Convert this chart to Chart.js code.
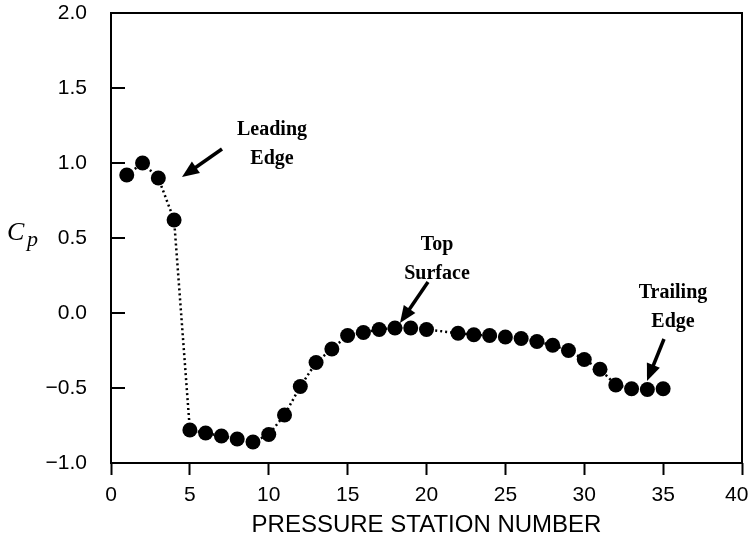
<!DOCTYPE html>
<html>
<head>
<meta charset="utf-8">
<script src="https://cdn.jsdelivr.net/npm/chart.js@4.4.1/dist/chart.umd.min.js"></script>
<style>
  html, body { margin: 0; padding: 0; background: #fff; }
  #wrap { width: 751px; height: 544px; }
</style>
</head>
<body>
<div id="wrap"><canvas id="myChart" width="751" height="544"></canvas></div>
<script>
// pressure stations (station 21 has no reading)
const stations = [1, 2, 3, 4, 5, 6, 7, 8, 9, 10, 11, 12, 13, 14, 15, 16, 17, 18, 19, 20,
                  22, 23, 24, 25, 26, 27, 28, 29, 30, 31, 32, 33, 34, 35];
const cpValues = [0.92, 1.00, 0.90, 0.62, -0.78, -0.80, -0.82, -0.84, -0.86, -0.81,
                  -0.68, -0.49, -0.33, -0.24, -0.15, -0.13, -0.11, -0.10, -0.10, -0.11,
                  -0.135, -0.145, -0.15, -0.16, -0.17, -0.19, -0.215, -0.25, -0.31, -0.375,
                  -0.48, -0.505, -0.51, -0.505];
const xTicks = [0, 5, 10, 15, 20, 25, 30, 35, 40];
const yTicks = [-1.0, -0.5, 0.0, 0.5, 1.0, 1.5, 2.0];

const notes = [
    { lines: ['Leading', 'Edge'], x: 272, y: 130, from: [222, 149], to: [182, 177] },
    { lines: ['Top', 'Surface'], x: 437, y: 245, from: [428, 282], to: [400, 323] },
    { lines: ['Trailing', 'Edge'], x: 673, y: 293, from: [664, 339], to: [647, 381] }
];

const framePlugin = {
    id: 'frame',
    afterDraw(chart) {
        const ctx = chart.ctx;
        const a = chart.chartArea;
        const y = chart.scales.y;
        ctx.save();
        ctx.strokeStyle = '#000';
        ctx.lineWidth = 2;
        ctx.strokeRect(a.left, a.top, a.right - a.left, a.bottom - a.top);
        // inward ticks on the left axis
        yTicks.forEach(v => {
            const py = y.getPixelForValue(v);
            ctx.beginPath();
            ctx.moveTo(a.left, py);
            ctx.lineTo(a.left + 14, py);
            ctx.stroke();
        });
        // y axis label
        ctx.fillStyle = '#000';
        ctx.font = 'italic 26px "Liberation Serif"';
        ctx.textBaseline = 'alphabetic';
        ctx.fillText('C', 7, 240);
        ctx.font = 'italic 22px "Liberation Serif"';
        ctx.fillText('p', 27, 246);
        // annotations
        ctx.font = 'bold 20px "Liberation Serif"';
        ctx.textAlign = 'center';
        ctx.textBaseline = 'middle';
        notes.forEach(n => {
            n.lines.forEach((t, i) => ctx.fillText(t, n.x, n.y + i * 29));
            const dx = n.to[0] - n.from[0], dy = n.to[1] - n.from[1];
            const ang = Math.atan2(dy, dx);
            ctx.lineWidth = 3.5;
            ctx.beginPath();
            ctx.moveTo(n.from[0], n.from[1]);
            ctx.lineTo(n.to[0] - 10 * Math.cos(ang), n.to[1] - 10 * Math.sin(ang));
            ctx.stroke();
            ctx.beginPath();
            ctx.moveTo(n.to[0], n.to[1]);
            ctx.lineTo(n.to[0] - 17 * Math.cos(ang) + 7 * Math.sin(ang), n.to[1] - 17 * Math.sin(ang) - 7 * Math.cos(ang));
            ctx.lineTo(n.to[0] - 17 * Math.cos(ang) - 7 * Math.sin(ang), n.to[1] - 17 * Math.sin(ang) + 7 * Math.cos(ang));
            ctx.closePath();
            ctx.fill();
        });
        ctx.restore();
    }
};

const ctx = document.getElementById('myChart').getContext('2d');
const myChart = new Chart(ctx, {
    type: 'line',
    data: {
        datasets: [{
            data: stations.map((s, i) => ({ x: s, y: cpValues[i] })),
            borderColor: '#000',
            borderWidth: 2.5,
            borderDash: [2, 3],
            backgroundColor: '#000',
            pointBackgroundColor: '#000',
            pointBorderColor: '#000',
            pointRadius: 7.5,
            pointBorderWidth: 0,
            tension: 0
        }]
    },
    options: {
        responsive: false,
        animation: false,
        layout: { padding: { left: 0, right: 9, top: 13, bottom: 0 } },
        plugins: { legend: { display: false }, tooltip: { enabled: false } },
        scales: {
            x: {
                type: 'linear',
                min: 0,
                max: 40,
                afterBuildTicks: s => { s.ticks = xTicks.map(v => ({ value: v })); },
                afterFit: s => { s.height = 81; s.paddingLeft = 0; s.paddingRight = 0; },
                grid: { drawOnChartArea: false, drawTicks: true, tickLength: 12, tickWidth: 2, tickColor: '#000' },
                border: { display: false },
                ticks: {
                    color: '#000',
                    padding: 8,
                    maxRotation: 0,
                    font: { family: '"Liberation Sans", Arial', size: 21 },
                    // last label sits a little left so it stays on the page
                    callback: v => v === 40 ? '40\u2002' : String(v)
                },
                title: {
                    display: true,
                    text: 'PRESSURE STATION NUMBER',
                    color: '#000',
                    padding: { top: 0, bottom: 4 },
                    font: { family: '"Liberation Sans", Arial', size: 24 }
                }
            },
            y: {
                type: 'linear',
                min: -1,
                max: 2,
                afterBuildTicks: s => { s.ticks = yTicks.map(v => ({ value: v })); },
                afterFit: s => { s.width = 111; s.paddingTop = 0; s.paddingBottom = 0; },
                grid: { display: false },
                border: { display: false },
                ticks: {
                    color: '#000',
                    padding: 16,
                    font: { family: '"Liberation Sans", Arial', size: 21 },
                    callback: v => (v < 0 ? '\u2212' : '') + Math.abs(v).toFixed(1)
                }
            }
        }
    },
    plugins: [framePlugin]
});
</script>
</body>
</html>
